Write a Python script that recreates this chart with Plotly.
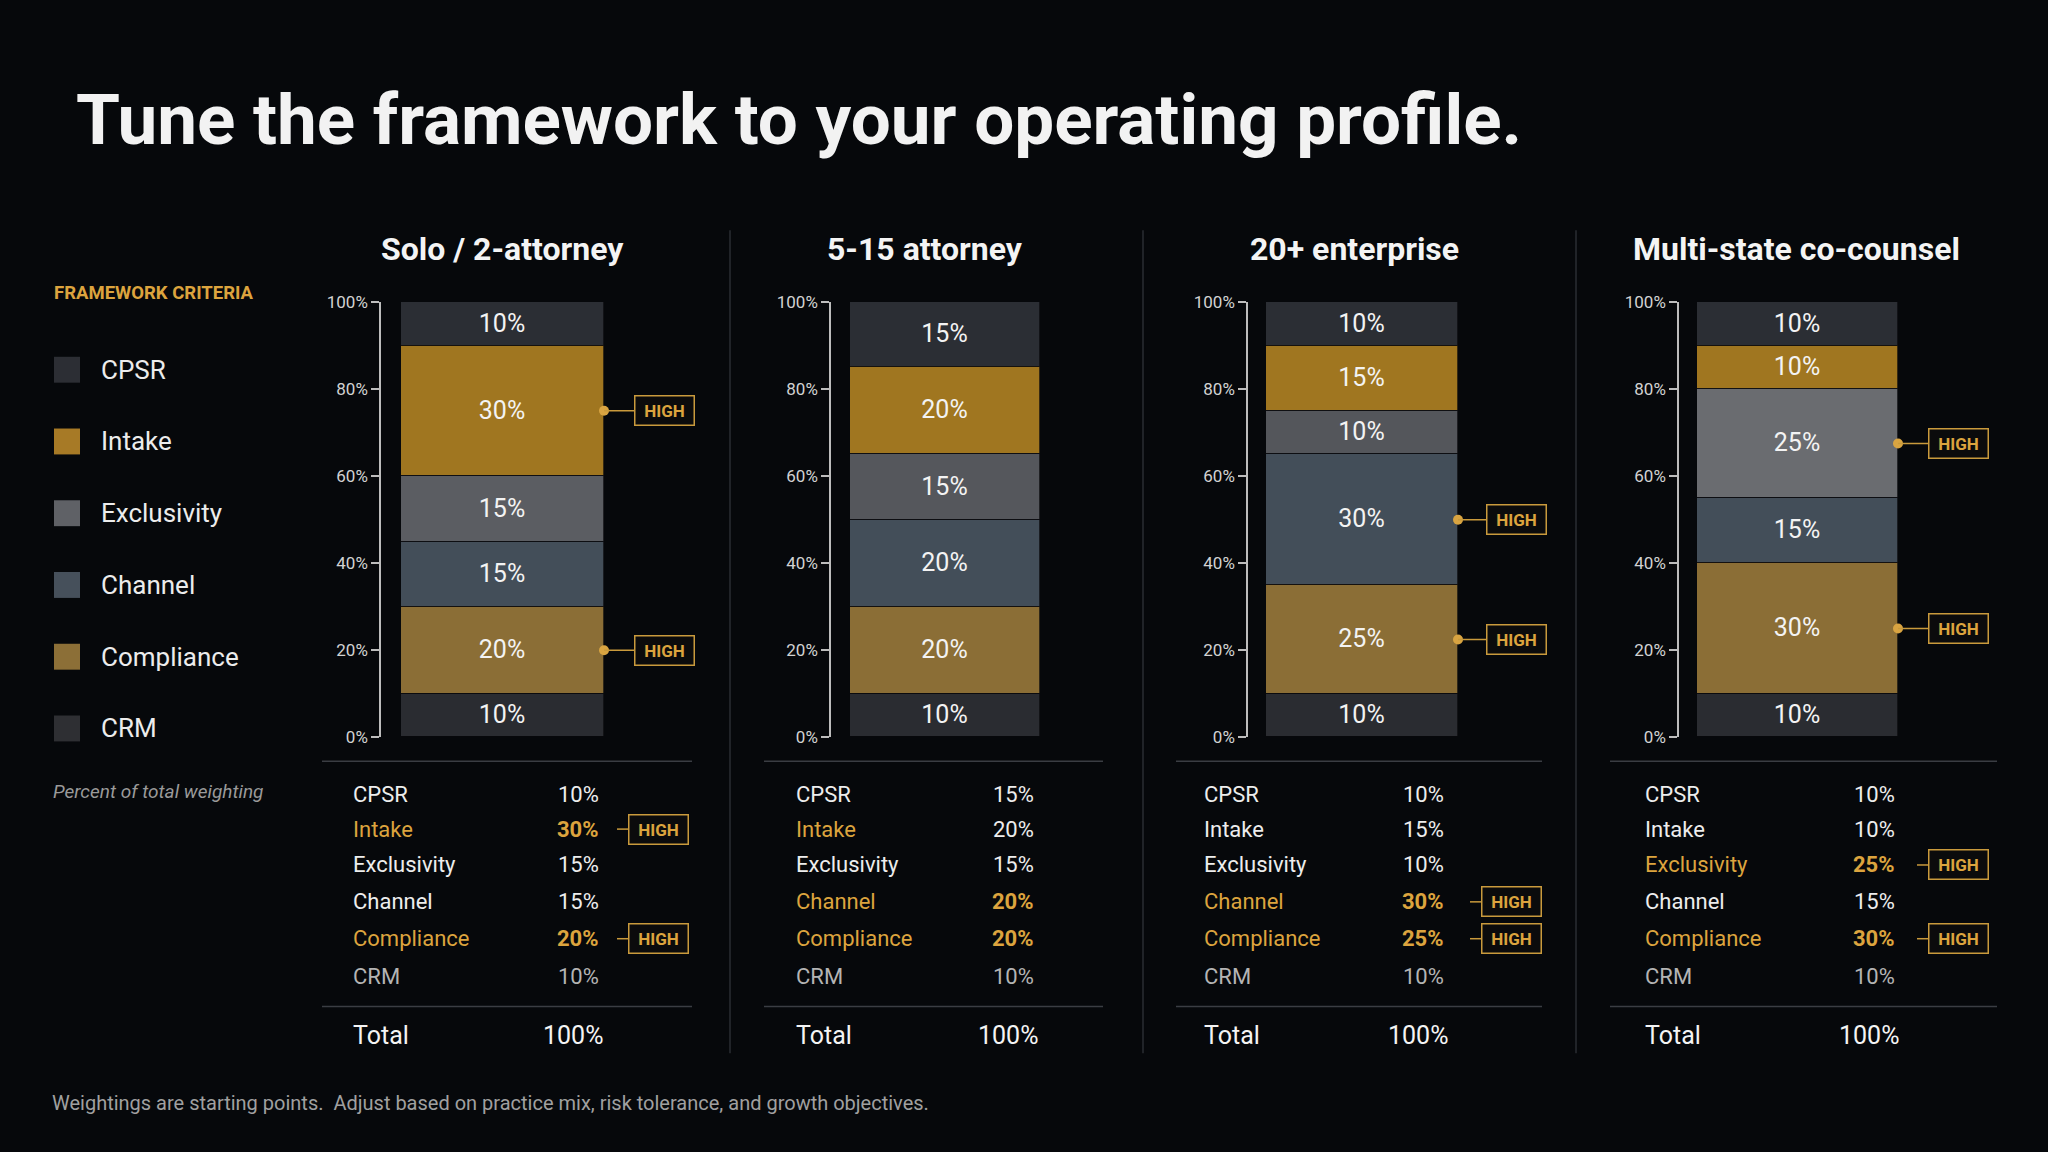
import plotly.graph_objects as go

W, H = 2048, 1152

# ---------------- data ----------------
criteria = ["CPSR", "Intake", "Exclusivity", "Channel", "Compliance", "CRM"]
panel_titles = ["Solo / 2-attorney", "5-15 attorney", "20+ enterprise", "Multi-state co-counsel"]

solo_values = [10, 30, 15, 15, 20, 10]
mid_values = [15, 20, 15, 20, 20, 10]
enterprise_values = [10, 15, 10, 30, 25, 10]
multistate_values = [10, 10, 25, 15, 30, 10]
panel_values = [solo_values, mid_values, enterprise_values, multistate_values]

solo_high = ["Intake", "Compliance"]
mid_high = []
enterprise_high = ["Channel", "Compliance"]
multistate_high = ["Exclusivity", "Compliance"]
panel_high = [solo_high, mid_high, enterprise_high, multistate_high]

# emphasised rows in the table (label colour / value colour)
label_emphasis = [["Intake", "Compliance"], ["Intake", "Channel", "Compliance"],
                  ["Channel", "Compliance"], ["Exclusivity", "Compliance"]]
value_emphasis = [["Intake", "Compliance"], ["Channel", "Compliance"],
                  ["Channel", "Compliance"], ["Exclusivity", "Compliance"]]

y_ticks = [0, 20, 40, 60, 80, 100]
y_tick_labels = [f"{t}%" for t in y_ticks]

title_text = "Tune the framework to your operating profile."
legend_heading = "FRAMEWORK CRITERIA"
legend_note = "Percent of total weighting"
footer_text = "Weightings are starting points.&nbsp; Adjust based on practice mix, risk tolerance, and growth objectives."

# ---------------- style / layout ----------------
BG = "#06080b"
GOLD = "#dca43e"
GOLD_LINE = "#c99a3c"
WHITE = "#ededed"
DIM = "#b4b4b4"
FONT = "Roboto"

colors = {
    "CPSR": "#2b2e34",
    "Intake": "#a07620",
    "Exclusivity": "#5a5c61",
    "Channel": "#434e59",
    "Compliance": "#8b6e36",
    "CRM": "#2a2c31",
}
excl_color_panel = ["#5b5d62", "#55575c", "#54565b", "#6a6c70"]

# pixel geometry per panel
bar_left = [401, 850, 1266, 1697]
bar_right = [604, 1040, 1458, 1898]
axis_x = [380, 830, 1247, 1678]
title_cx = [502, 925, 1354, 1796]
badge_left = [634, None, 1486, 1928]
bar_top, bar_bottom = 301, 738

tbl_left = [322, 764, 1176, 1610]
tbl_right = [692, 1103, 1542, 1997]
tbl_label_x = [351, 794, 1202, 1643]
tbl_value_r = [601, 1036, 1446, 1897]
tbl_badge_left = [628, None, 1481, 1928]
row_y = [795, 830, 866, 903, 940, 978]
total_y = 1037
line_y1, line_y2 = 762, 1008

dividers_x = [730, 1143, 1576]

# the page is drawn with an 8px top offset and 1136px of usable height
Y_OFF, Y_SPAN = 8, 1136


def px(x):
    return x / W


def py(y):
    return 1 - (y - Y_OFF) / Y_SPAN


fig = go.Figure()
shapes = []
annotations = []


def badge(x_center, y, yref):
    return dict(
        x=x_center, y=y, xref="paper", yref=yref, text="<b>HIGH</b>", showarrow=False,
        font=dict(family=FONT, size=17, color=GOLD), bgcolor="#0b0b0c",
        bordercolor=GOLD_LINE, borderwidth=1.5, borderpad=2, width=54, height=24,
        xanchor="center", yanchor="middle",
    )


for i, vals in enumerate(panel_values):
    xa = "x" if i == 0 else f"x{i+1}"
    ya = "y" if i == 0 else f"y{i+1}"
    stack_order = list(reversed(criteria))  # bottom -> top
    for crit in stack_order:
        v = vals[criteria.index(crit)]
        col = excl_color_panel[i] if crit == "Exclusivity" else colors[crit]
        fig.add_trace(go.Bar(
            x=[0], y=[v], width=1, name=crit, xaxis=xa, yaxis=ya,
            marker=dict(color=col, line=dict(width=1, color="rgba(8,9,12,0.7)")),
            text=[f"{v}%"], textposition="inside", insidetextanchor="middle",
            textangle=0, constraintext="none",
            textfont=dict(family=FONT, size=25, color="#f3f3f3"),
            showlegend=False, hovertemplate=f"{crit}: %{{y}}%<extra></extra>",
        ))

    # HIGH markers on bars
    cum = 0
    centers = {}
    for crit in stack_order:
        v = vals[criteria.index(crit)]
        centers[crit] = cum + v / 2
        cum += v
    for crit in panel_high[i]:
        c = centers[crit]
        fig.add_trace(go.Scatter(
            x=[0.5], y=[c], xaxis=xa, yaxis=ya, mode="markers", cliponaxis=False,
            marker=dict(size=10, color="#d9a441"), showlegend=False, hoverinfo="skip",
        ))
        shapes.append(dict(type="line", xref="paper", yref=ya,
                           x0=px(bar_right[i]), x1=px(badge_left[i]), y0=c, y1=c,
                           line=dict(color=GOLD_LINE, width=1.5)))
        annotations.append(badge(px(badge_left[i] + 30), c, ya))

    # axes
    xkey = "xaxis" if i == 0 else f"xaxis{i+1}"
    ykey = "yaxis" if i == 0 else f"yaxis{i+1}"
    fig.update_layout(**{
        xkey: dict(domain=[px(bar_left[i]), px(bar_right[i])], range=[-0.5, 0.5],
                   visible=False, anchor=ya, fixedrange=True),
        ykey: dict(domain=[py(bar_bottom), py(bar_top)], range=[0, 100],
                   anchor="free", position=px(axis_x[i]),
                   tickvals=y_ticks, ticktext=y_tick_labels, ticks="outside",
                   ticklen=8, tickwidth=1.5, tickcolor="#bdbdbd",
                   showline=True, linecolor="#bdbdbd", linewidth=1.5,
                   showgrid=False, zeroline=False, fixedrange=True,
                   tickfont=dict(family=FONT, size=17, color="#d2d2d2")),
    })

    # panel title
    annotations.append(dict(x=px(title_cx[i]), y=py(248), xref="paper", yref="paper",
                            text=f"<b>{panel_titles[i]}</b>", showarrow=False,
                            font=dict(family=FONT, size=32, color="#f4f4f4"),
                            xanchor="center", yanchor="middle"))

    # table
    for ly in (line_y1, line_y2):
        shapes.append(dict(type="line", xref="paper", yref="paper",
                           x0=px(tbl_left[i]), x1=px(tbl_right[i]), y0=py(ly), y1=py(ly),
                           line=dict(color="#3a3d43", width=1.5)))
    for r, crit in enumerate(criteria):
        v = vals[r]
        base_col = DIM if crit == "CRM" else WHITE
        lab_col = GOLD if crit in label_emphasis[i] else base_col
        if crit in value_emphasis[i]:
            val_txt, val_col = f"<b>{v}%</b>", GOLD
        else:
            val_txt, val_col = f"{v}%", base_col
        annotations.append(dict(x=px(tbl_label_x[i]), y=py(row_y[r]), xref="paper", yref="paper",
                                text=crit, showarrow=False, xanchor="left", yanchor="middle",
                                font=dict(family=FONT, size=22, color=lab_col)))
        annotations.append(dict(x=px(tbl_value_r[i]), y=py(row_y[r]), xref="paper", yref="paper",
                                text=val_txt, showarrow=False, xanchor="right", yanchor="middle",
                                font=dict(family=FONT, size=22, color=val_col)))
        if crit in panel_high[i]:
            bl = tbl_badge_left[i]
            shapes.append(dict(type="line", xref="paper", yref="paper",
                               x0=px(bl - 11), x1=px(bl), y0=py(row_y[r]), y1=py(row_y[r]),
                               line=dict(color=GOLD_LINE, width=1.5)))
            annotations.append(badge(px(bl + 30), py(row_y[r]), "paper"))
    annotations.append(dict(x=px(tbl_label_x[i]), y=py(total_y), xref="paper", yref="paper",
                            text="Total", showarrow=False, xanchor="left", yanchor="middle",
                            font=dict(family=FONT, size=25, color="#f4f4f4")))
    annotations.append(dict(x=px(tbl_value_r[i] + 4), y=py(total_y), xref="paper", yref="paper",
                            text=f"{sum(vals)}%", showarrow=False, xanchor="right", yanchor="middle",
                            font=dict(family=FONT, size=25, color="#f4f4f4")))

# dividers
for dx in dividers_x:
    shapes.append(dict(type="line", xref="paper", yref="paper",
                       x0=px(dx), x1=px(dx), y0=py(229), y1=py(1055),
                       line=dict(color="#2a2d33", width=1.5)))

# legend (manual)
legend_y = [369, 441, 513, 585, 657, 729]
legend_colors = ["#2c2e34", "#a77a26", "#5f6166", "#46505b", "#8c6f37", "#2e2f33"]
annotations.append(dict(x=px(52), y=py(292), xref="paper", yref="paper",
                        text=f"<b>{legend_heading}</b>", showarrow=False,
                        xanchor="left", yanchor="middle",
                        font=dict(family=FONT, size=18.5, color=GOLD)))
for k, crit in enumerate(criteria):
    yc = legend_y[k]
    shapes.append(dict(type="rect", xref="paper", yref="paper",
                       x0=px(54), x1=px(80), y0=py(yc + 13), y1=py(yc - 13),
                       fillcolor=legend_colors[k], line=dict(width=0)))
    annotations.append(dict(x=px(99), y=py(yc), xref="paper", yref="paper",
                            text=crit, showarrow=False, xanchor="left", yanchor="middle",
                            font=dict(family=FONT, size=26, color="#ececec")))
annotations.append(dict(x=px(51), y=py(792), xref="paper", yref="paper",
                        text=f"<i>{legend_note}</i>", showarrow=False,
                        xanchor="left", yanchor="middle",
                        font=dict(family=FONT, size=19, color="#9a9a9a")))

# title & footer
annotations.append(dict(x=px(74), y=py(118), xref="paper", yref="paper",
                        text=f"<b>{title_text}</b>", showarrow=False,
                        xanchor="left", yanchor="middle",
                        font=dict(family=FONT, size=71, color="#f2f2f2")))
annotations.append(dict(x=px(50), y=py(1105), xref="paper", yref="paper",
                        text=footer_text, showarrow=False,
                        xanchor="left", yanchor="middle",
                        font=dict(family=FONT, size=20, color="#a0a0a0")))

fig.update_layout(
    width=W, height=H, margin=dict(l=0, r=0, t=0, b=0),
    paper_bgcolor=BG, plot_bgcolor=BG, barmode="stack", bargap=0,
    shapes=shapes, annotations=annotations, showlegend=False,
    font=dict(family=FONT, color=WHITE),
)

fig.write_html("out.html", config={"displayModeBar": False})
